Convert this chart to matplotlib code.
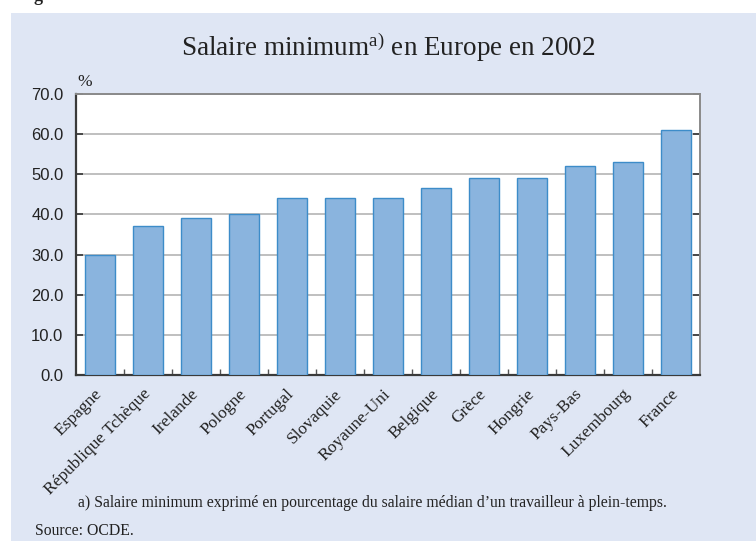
import numpy as np
import matplotlib
matplotlib.use("Agg")
import matplotlib.pyplot as plt
from matplotlib.patches import Rectangle

# data
pays = ["Espagne", "République Tchèque", "Irelande", "Pologne", "Portugal",
        "Slovaquie", "Royaune-Uni", "Belgique", "Grèce", "Hongrie",
        "Pays-Bas", "Luxembourg", "France"]
salaire = [30.0, 37.0, 39.0, 40.0, 44.0, 44.0, 44.0, 46.7, 49.0, 49.0, 52.0, 53.0, 61.0]
yticks = [0, 10, 20, 30, 40, 50, 60, 70]

bg = "#dfe6f4"
serif = "Liberation Serif"
sans = "Liberation Sans"
plt.rcParams["mathtext.fontset"] = "custom"
plt.rcParams["mathtext.rm"] = serif
plt.rcParams["mathtext.it"] = serif

fig = plt.figure(figsize=(7.56, 5.41), dpi=100)
fig.patches.append(Rectangle((11/756, 0), 1 - 11/756, 1 - 13/541,
                             transform=fig.transFigure, facecolor=bg,
                             edgecolor="none", zorder=-10))
# cut off heading letter at the very top
fig.text(33/756, 1 - 1/541, "g", fontfamily=serif, fontweight="bold",
         fontsize=13, va="baseline", ha="left", color="#222222")

ax = fig.add_axes([76/756, 1 - 375/541, (700-76)/756, (375-94)/541])
ax.set_facecolor("white")

x = np.arange(len(pays))
ax.bar(x, salaire, width=0.62, color="#8ab4de", edgecolor="#3d8cc9",
       linewidth=1.0, zorder=3)

ax.set_xlim(-0.5, len(pays) - 0.5)
ax.set_ylim(0, 70)
ax.set_yticks(yticks)
ax.set_yticklabels(["%.1f" % v for v in yticks], fontfamily=sans, fontsize=12,
                   color="#222222")
ax.yaxis.grid(True, color="#b4b4b4", linewidth=1.2, zorder=0)
ax.tick_params(axis="y", direction="in", length=5, width=1.2, color="#333333",
               right=True, pad=9)

# category labels and small ticks between bars
ax.set_xticks(x)
ax.set_xticklabels(pays, rotation=45, ha="right", va="center",
                   rotation_mode="anchor",
                   fontfamily=serif, fontsize=12.5, color="#222222")
ax.tick_params(axis="x", length=0, pad=12)
ax.set_xticks(x[:-1] + 0.5, minor=True)
ax.tick_params(axis="x", which="minor", direction="in", length=4, width=1,
               color="#555555")

for s in ["left", "bottom"]:
    ax.spines[s].set_color("#3a3a3a")
    ax.spines[s].set_linewidth(1.6)
for s in ["top", "right"]:
    ax.spines[s].set_color("#8a8a8a")
    ax.spines[s].set_linewidth(1.4)

ax.text(0.003, 1.015, "%", transform=ax.transAxes, fontfamily=serif,
        fontsize=12.5, ha="left", va="bottom", color="#222222")

fig.text(388/756, 1 - 47/541, r"Salaire minimum$^{\mathrm{a)}}$ en Europe en 2002",
         fontfamily=serif, fontsize=19.5, ha="center", va="center",
         color="#222222")

fig.text(78/756, 1 - 503/541,
         "a) Salaire minimum exprimé en pourcentage du salaire médian d\u2019un travailleur à plein-temps.",
         fontfamily=serif, fontsize=11.3, ha="left", va="center", color="#222222")
fig.text(35/756, 1 - 531/541, "Source: OCDE.", fontfamily=serif,
         fontsize=11.3, ha="left", va="center", color="#222222")

fig.savefig("out.png", dpi=100)
